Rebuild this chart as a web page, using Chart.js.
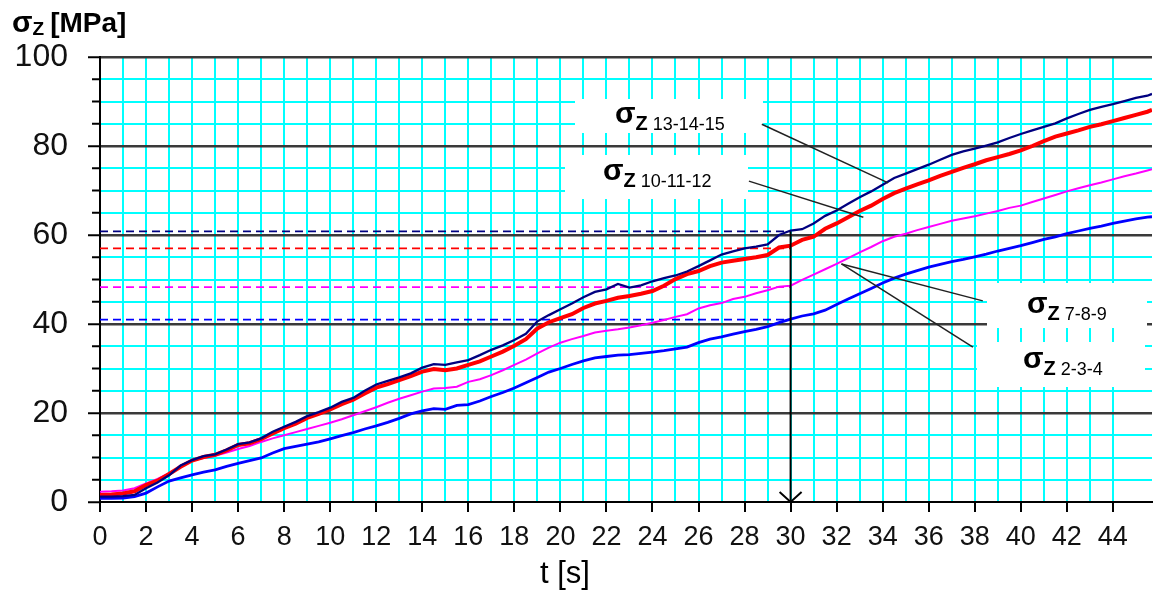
<!DOCTYPE html>
<html>
<head>
<meta charset="utf-8">
<script src="https://cdn.jsdelivr.net/npm/chart.js@4"></script>
<style>
  html, body { margin: 0; padding: 0; background: #fff; }
  canvas { display: block; }
</style>
</head>
<body>
<canvas id="chart" width="1161" height="590"></canvas>
<script>
// Time axis samples [s]
const times = [
  0, 0.5, 1, 1.5, 2, 2.5, 3, 3.5, 4, 4.5, 5, 5.5, 6, 6.5, 7, 7.5, 8, 8.5, 9, 9.5,
  10, 10.5, 11, 11.5, 12, 12.5, 13, 13.5, 14, 14.5, 15, 15.5, 16, 16.5, 17, 17.5, 18, 18.5, 19, 19.5,
  20, 20.5, 21, 21.5, 22, 22.5, 23, 23.5, 24, 24.5, 25, 25.5, 26, 26.5, 27, 27.5, 28, 28.5, 29, 29.5,
  30, 30.5, 31, 31.5, 32, 32.5, 33, 33.5, 34, 34.5, 35, 35.5, 36, 36.5, 37, 37.5, 38, 38.5, 39, 39.5,
  40, 40.5, 41, 41.5, 42, 42.5, 43, 43.5, 44, 44.5, 45, 45.5, 45.7
];

// Vertical stress σZ [MPa] per measuring group
const sigma131415 = [
  1.2, 1.2, 1.3, 1.6, 3.1, 4.4, 6.0, 8.2, 9.4, 10.3, 10.7, 11.8, 13.0, 13.4, 14.3, 15.8, 16.9, 18.0, 19.3, 20.2,
  21.2, 22.5, 23.4, 25.0, 26.4, 27.2, 28.0, 28.9, 30.2, 31.0, 30.8, 31.4, 31.9, 33.0, 34.2, 35.2, 36.4, 37.8, 40.6, 42.0,
  43.3, 44.6, 46.0, 47.2, 47.8, 49.0, 48.2, 48.7, 49.6, 50.3, 50.9, 51.8, 53.0, 54.3, 55.6, 56.3, 57.0, 57.4, 57.9, 60.0,
  61.0, 61.3, 62.6, 64.3, 65.5, 67.0, 68.5, 69.8, 71.3, 72.8, 73.8, 74.8, 75.8, 76.9, 78.0, 78.8, 79.4, 80.1, 80.8, 81.8,
  82.7, 83.5, 84.3, 85.1, 86.2, 87.2, 88.1, 88.8, 89.4, 90.1, 90.8, 91.3, 91.7
];
const sigma101112 = [
  1.6, 1.7, 1.9, 2.4, 3.8, 4.8, 6.3, 7.9, 9.3, 10.1, 10.6, 11.6, 12.8, 13.2, 14.1, 15.4, 16.6, 17.6, 18.9, 19.8,
  20.8, 22.0, 23.0, 24.4, 25.7, 26.5, 27.4, 28.3, 29.3, 29.9, 29.6, 30.0, 30.8, 31.6, 32.7, 33.8, 35.1, 36.6, 39.0, 40.4,
  41.3, 42.2, 43.6, 44.6, 45.2, 45.9, 46.3, 46.8, 47.4, 48.6, 50.1, 51.2, 51.9, 53.0, 53.8, 54.2, 54.6, 55.0, 55.5, 57.2,
  57.6, 58.9, 59.6, 61.4, 62.6, 64.0, 65.4, 66.6, 68.1, 69.4, 70.4, 71.4, 72.3, 73.3, 74.2, 75.1, 75.9, 76.8, 77.5, 78.2,
  79.0, 80.0, 81.1, 82.1, 82.8, 83.5, 84.3, 84.9, 85.6, 86.3, 87.0, 87.7, 88.1
];
const sigma789 = [
  2.3, 2.4, 2.6, 3.1, 4.2, 5.2, 6.5, 8.0, 9.3, 9.9, 10.4, 11.1, 11.9, 12.6, 13.5, 14.3, 15.0, 15.7, 16.4, 17.1,
  17.8, 18.6, 19.5, 20.4, 21.3, 22.3, 23.2, 24.0, 24.8, 25.5, 25.6, 25.9, 27.0, 27.6, 28.5, 29.6, 30.8, 32.0, 33.4, 34.7,
  35.8, 36.6, 37.3, 38.1, 38.5, 38.8, 39.2, 39.7, 40.3, 40.9, 41.6, 42.2, 43.5, 44.2, 44.7, 45.6, 46.1, 46.9, 47.6, 48.4,
  48.6, 49.9, 51.1, 52.3, 53.5, 54.8, 56.1, 57.3, 58.6, 59.6, 60.3, 61.1, 61.8, 62.5, 63.2, 63.7, 64.2, 64.8, 65.4, 66.1,
  66.6, 67.4, 68.2, 69.0, 69.8, 70.5, 71.2, 71.8, 72.5, 73.2, 73.8, 74.5, 74.8
];
const sigma234 = [
  0.8, 0.8, 0.9, 1.2, 2.0, 3.4, 4.7, 5.4, 6.1, 6.7, 7.2, 8.0, 8.7, 9.3, 9.9, 11.0, 12.0, 12.5, 13.0, 13.5,
  14.2, 14.9, 15.6, 16.4, 17.1, 17.9, 18.8, 19.8, 20.5, 21.0, 20.8, 21.7, 21.9, 22.7, 23.7, 24.6, 25.6, 26.8, 28.0, 29.2,
  30.0, 30.9, 31.7, 32.4, 32.7, 33.0, 33.1, 33.4, 33.7, 34.0, 34.4, 34.8, 35.8, 36.6, 37.1, 37.7, 38.3, 38.8, 39.4, 40.3,
  41.1, 41.8, 42.3, 43.1, 44.4, 45.6, 46.8, 48.0, 49.2, 50.3, 51.2, 52.0, 52.8, 53.4, 54.0, 54.5, 55.1, 55.7, 56.4, 57.0,
  57.6, 58.3, 59.0, 59.6, 60.3, 60.9, 61.5, 62.0, 62.6, 63.1, 63.6, 64.0, 64.1
];

// Reading at t = 30 s: level of each curve, marked by a dashed line back to t = 0
const readTime = 30;
const readLevels = [60.8, 57.0, 48.3, 41.0];

// Curve captions (group numbers written after σZ)
const groupNames = ['13-14-15', '10-11-12', '7-8-9', '2-3-4'];
const lineColors = ['#000080', '#ff0000', '#ff00ff', '#0000ff'];
const lineWidths = [2.3, 4, 2, 2.8];

// Axis tick labels
const yLabelValues = [0, 20, 40, 60, 80, 100];
const xLabelValues = [0, 2, 4, 6, 8, 10, 12, 14, 16, 18, 20, 22, 24, 26, 28, 30, 32, 34, 36, 38, 40, 42, 44];

const series = [sigma131415, sigma101112, sigma789, sigma234];
const pts = vals => vals.map((v, i) => ({ x: times[i], y: v }));

const datasets = series.map((vals, i) => ({
  data: pts(vals),
  borderColor: lineColors[i],
  borderWidth: lineWidths[i],
  pointRadius: 0,
  tension: 0,
  order: 1
}));
readLevels.forEach((lvl, i) => datasets.push({
  data: [{ x: 0, y: lvl }, { x: readTime, y: lvl }],
  borderColor: lineColors[i],
  borderWidth: 1.8,
  borderDash: [8, 5],
  pointRadius: 0,
  order: 2
}));
// vertical reading arrow at t = 30 s
datasets.push({
  data: [{ x: readTime, y: readLevels[0] }, { x: readTime, y: 0 }],
  borderColor: '#000',
  borderWidth: 2,
  pointRadius: 0,
  order: 0
});

const FONT = '"Liberation Sans", Arial, sans-serif';
const CYAN = '#00ffff';
const DARK = '#3a3a3a';

// Caption boxes (pixel layout) and leader lines (data coordinates)
const captions = [
  { box: [575, 99, 188, 34], x: 615, base: 123, leader: [[28.75, 84.9], [34.24, 71.7]] },
  { box: [565, 155, 183, 44], x: 603, base: 180, leader: [[28.19, 72.1], [33.16, 64.0]] },
  { box: [987, 283, 160, 45], x: 1027, base: 313, leader: [[38.35, 45.2], [32.21, 53.5]] },
  { box: [977, 342, 168, 45], x: 1023, base: 368, leader: [[37.92, 34.8], [32.21, 53.5]] }
];

function drawSigma(ctx, x, base, sub, sizes) {
  ctx.textAlign = 'left';
  ctx.textBaseline = 'alphabetic';
  ctx.font = `bold ${sizes[0]}px ${FONT}`;
  ctx.fillText('σ', x, base);
  let cx = x + ctx.measureText('σ').width;
  ctx.font = `bold ${sizes[1]}px ${FONT}`;
  ctx.fillText('Z', cx, base + sizes[3]);
  cx += ctx.measureText('Z').width;
  if (sub) {
    ctx.font = `${sizes[2]}px ${FONT}`;
    ctx.fillText(sub, cx, base + sizes[3]);
  }
  return cx;
}

const overlay = {
  id: 'overlay',
  afterDraw(chart) {
    const { ctx, scales: { x, y } } = chart;
    ctx.save();
    // minor ticks on the stress axis
    ctx.strokeStyle = '#000';
    ctx.lineWidth = 2;
    for (let v = 5; v < 100; v += 5) {
      if (v % 20 === 0) continue;
      const py = y.getPixelForValue(v);
      ctx.beginPath();
      ctx.moveTo(chart.chartArea.left - 8, py);
      ctx.lineTo(chart.chartArea.left, py);
      ctx.stroke();
    }
    // arrowhead at the bottom of the reading line
    const ax = x.getPixelForValue(readTime), ay = y.getPixelForValue(0);
    ctx.lineWidth = 2;
    ctx.beginPath();
    ctx.moveTo(ax - 11, ay - 10);
    ctx.lineTo(ax, ay);
    ctx.lineTo(ax + 11, ay - 10);
    ctx.stroke();

    // caption boxes
    ctx.fillStyle = '#fff';
    captions.forEach(c => ctx.fillRect(...c.box));
    // leader lines
    ctx.strokeStyle = '#222';
    ctx.lineWidth = 1.5;
    captions.forEach(c => {
      ctx.beginPath();
      ctx.moveTo(x.getPixelForValue(c.leader[0][0]), y.getPixelForValue(c.leader[0][1]));
      ctx.lineTo(x.getPixelForValue(c.leader[1][0]), y.getPixelForValue(c.leader[1][1]));
      ctx.stroke();
    });
    // caption texts
    ctx.fillStyle = '#000';
    captions.forEach((c, i) => drawSigma(ctx, c.x, c.base, ' ' + groupNames[i], [30, 20, 18, 7]));

    // axis titles
    const cx = drawSigma(ctx, 12, 32, '', [30, 19, 0, 3]);
    ctx.font = `bold 28px ${FONT}`;
    ctx.fillText('[MPa]', cx + 6, 32);
    ctx.font = `31px ${FONT}`;
    ctx.textAlign = 'center';
    ctx.fillText('t [s]', 565, 583);
    ctx.restore();
  }
};

new Chart(document.getElementById('chart'), {
  type: 'line',
  data: { datasets },
  options: {
    responsive: false,
    animation: false,
    events: [],
    layout: { padding: { top: 57, right: 4, left: 0, bottom: 0 } },
    plugins: { legend: { display: false }, tooltip: { enabled: false } },
    scales: {
      x: {
        type: 'linear',
        min: 0,
        max: 45.7,
        afterFit: s => { s.height = 88; },
        border: { color: '#000', width: 2 },
        grid: {
          color: c => (c.tick && Number.isInteger(c.tick.value) && c.tick.value !== 0) ? CYAN : 'rgba(0,0,0,0)',
          lineWidth: 2,
          tickLength: 10,
          tickWidth: 2,
          tickColor: c => (c.tick && xLabelValues.includes(c.tick.value)) ? '#000' : 'rgba(0,0,0,0)'
        },
        ticks: {
          stepSize: 1,
          autoSkip: false,
          maxRotation: 0,
          minRotation: 0,
          padding: 9,
          color: '#111',
          font: { family: FONT, size: 27 },
          callback: v => xLabelValues.includes(v) ? String(v) : ''
        }
      },
      y: {
        min: 0,
        max: 100,
        afterFit: s => { s.width = 100; },
        border: { color: '#000', width: 2 },
        grid: {
          color: c => {
            const v = c.tick ? c.tick.value : -1;
            if (v === 0) return 'rgba(0,0,0,0)';
            return v % 20 === 0 ? DARK : CYAN;
          },
          lineWidth: c => (c.tick && c.tick.value % 20 === 0) ? 2.5 : 2,
          tickLength: 12,
          tickWidth: 2,
          tickColor: c => (c.tick && c.tick.value % 20 === 0) ? '#000' : 'rgba(0,0,0,0)'
        },
        ticks: {
          stepSize: 5,
          autoSkip: false,
          padding: 20,
          color: '#111',
          font: { family: FONT, size: 32 },
          callback: v => yLabelValues.includes(v) ? String(v) : ''
        }
      }
    }
  },
  plugins: [overlay]
});
</script>
</body>
</html>
